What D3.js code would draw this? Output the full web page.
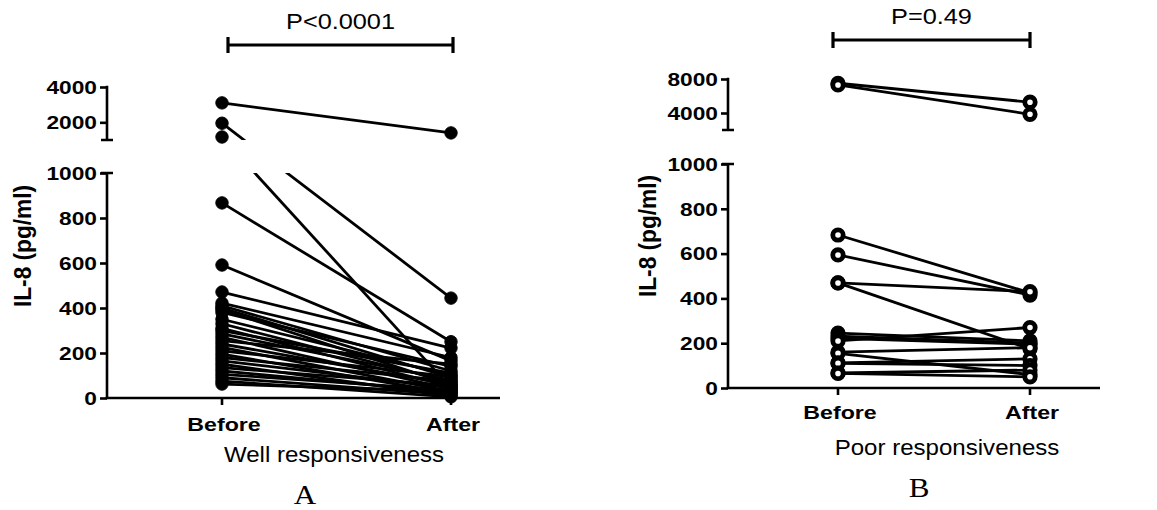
<!DOCTYPE html>
<html>
<head>
<meta charset="utf-8">
<script src="https://cdn.jsdelivr.net/npm/d3@7"></script>
<style>
  body { margin: 0; background: #fff; }
  text { font-family: "Liberation Sans", Arial, sans-serif; fill: #000; }
</style>
</head>
<body>
<svg id="chart" width="1157" height="510"></svg>
<script>
// ---- data ----
var groups = ["Before", "After"];

// A: well responsiveness, one entry per patient
var wellBefore = [3100, 1950, 1170, 867, 591, 471, 422, 410, 400, 392, 380, 350, 330, 310, 300, 285, 270, 255, 240, 225, 210, 195, 180, 165, 150, 135, 120, 105, 90, 75, 62];
var wellAfter  = [1400, 444, 45, 250, 165, 222, 180, 120, 90, 60, 140, 100, 70, 50, 110, 80, 40, 150, 60, 30, 95, 20, 75, 45, 10, 55, 25, 35, 15, 5, 30];

// B: poor responsiveness
var poorBefore = [7500, 7300, 683, 594, 469, 469, 245, 232, 222, 210, 160, 155, 112, 110, 67, 65];
var poorAfter  = [5270, 3850, 425, 415, 430, 175, 210, 200, 195, 270, 180, 60, 130, 100, 80, 50];

var wellTicksLow = [0, 200, 400, 600, 800, 1000], wellTicksHigh = [2000, 4000];
var poorTicksLow = [0, 200, 400, 600, 800, 1000], poorTicksHigh = [4000, 8000];

var svg = d3.select('#chart');

// small helper: horizontal text a bit stretched like the original figure
function label(g, txt, x, y, size, opts) {
    opts = opts || {};
    var sx = opts.sx || 1.2;
    return g.append('text')
        .attr('transform', 'translate(' + x + ',' + y + ') scale(' + sx + ',1)')
        .attr('text-anchor', opts.anchor || 'middle')
        .style('font-size', size + 'px')
        .style('font-weight', opts.bold ? 'bold' : 'normal')
        .style('font-family', opts.serif ? '"Liberation Serif", "Times New Roman", serif' : null)
        .text(txt);
}

function drawPanel(p) {
    var g = svg.append('g');

    var x = d3.scalePoint().domain(groups).range([p.x0, p.x1]);
    var yLow = d3.scaleLinear().domain(p.lowDomain).range([p.yBottom, p.yBreakLow]);
    var yHigh = d3.scaleLinear().domain(p.highDomain).range([p.yBreakHigh, p.yTop]);
    var y = function(v) { return v > p.lowDomain[1] ? yHigh(v) : yLow(v); };

    // lines are hidden inside the axis break
    var clipId = 'clip-' + p.id;
    var clip = svg.append('clipPath').attr('id', clipId);
    clip.append('rect').attr('x', 0).attr('y', 0).attr('width', 1157).attr('height', p.yBreakHigh);
    clip.append('rect').attr('x', 0).attr('y', p.yBreakLow).attr('width', 1157).attr('height', 510);

    var pairs = p.before.map(function(b, i) { return { b: b, a: p.after[i] }; });

    g.append('g').attr('clip-path', 'url(#' + clipId + ')')
        .selectAll('line').data(pairs).enter().append('line')
        .attr('x1', x('Before')).attr('y1', function(d) { return y(d.b); })
        .attr('x2', x('After')).attr('y2', function(d) { return y(d.a); })
        .attr('stroke', '#000').attr('stroke-width', 2.8);

    var pts = [];
    pairs.forEach(function(d) { pts.push({ g: 'Before', v: d.b }); pts.push({ g: 'After', v: d.a }); });

    g.append('g').selectAll('circle').data(pts).enter().append('circle')
        .attr('cx', function(d) { return x(d.g); })
        .attr('cy', function(d) { return y(d.v); })
        .attr('r', p.open ? 5.2 : 6.2)
        .attr('fill', p.open ? '#fff' : '#000')
        .attr('stroke', '#000')
        .attr('stroke-width', p.open ? 4.8 : 1);

    // y axes (two segments)
    [[yLow, p.ticksLow], [yHigh, p.ticksHigh]].forEach(function(s) {
        var ax = g.append('g').attr('transform', 'translate(' + p.axisX + ',0)')
            .call(d3.axisLeft(s[0]).tickValues(s[1]).tickSize(7).tickFormat(d3.format('d')));
        ax.select('.domain').remove();
        ax.selectAll('line').attr('stroke', '#000').attr('stroke-width', 2.6);
        ax.selectAll('text')
            .attr('x', -10 / 1.3).attr('dy', '0.36em')
            .attr('transform', 'scale(1.3,1)')
            .style('font-size', '17.5px').style('font-weight', 'bold')
            .style('font-family', '"Liberation Sans", Arial, sans-serif');
    });

    var axisStroke = function(sel) { return sel.attr('stroke', '#000').attr('stroke-width', 2.6).attr('fill', 'none'); };
    // segment spines with caps at the break
    axisStroke(g.append('path')
        .attr('d', 'M' + p.axisX + ',' + (yHigh.range()[1] - 1.3) + 'V' + p.yBreakHigh +
                   'M' + (p.axisX - 6) + ',' + p.yBreakHigh + 'H' + (p.axisX + 6)));
    axisStroke(g.append('path')
        .attr('d', 'M' + (p.axisX - 6) + ',' + p.yBreakLow + 'H' + (p.axisX + 6) +
                   'M' + p.axisX + ',' + p.yBreakLow + 'V' + p.yBottom));

    // x axis
    axisStroke(g.append('path')
        .attr('d', 'M' + (p.axisX - 1.3) + ',' + p.yBottom + 'H' + p.xEnd));
    groups.forEach(function(k) {
        axisStroke(g.append('path').attr('d', 'M' + x(k) + ',' + p.yBottom + 'v7'));
        label(g, k, x(k) + 2, p.groupY, 19, { bold: true, sx: 1.22 });
    });

    // y label
    g.append('text')
        .attr('transform', 'translate(' + p.ylabX + ',' + p.ylabY + ') rotate(-90) scale(1.03,1.12)')
        .attr('text-anchor', 'middle')
        .style('font-size', '22px').style('font-weight', 'bold')
        .text('IL-8 (pg/ml)');

    // significance bracket
    axisStroke(g.append('path')
        .attr('d', 'M' + p.bx0 + ',' + p.by + 'H' + p.bx1 +
                   'M' + p.bx0 + ',' + (p.by - 8) + 'v16' +
                   'M' + p.bx1 + ',' + (p.by - 8) + 'v16'))
        .attr('stroke-width', 3.2);
    label(g, p.pval, (p.bx0 + p.bx1) / 2, p.by - 16, 22, { sx: 1.15 });

    label(g, p.title, p.titleX, p.titleY, 21.5, { sx: 1.12 });
    label(g, p.letter, p.letterX, p.letterY, 27, { serif: true, sx: 1.15 });
}

drawPanel({
    id: 'a', before: wellBefore, after: wellAfter, open: false,
    x0: 222, x1: 451, axisX: 107, xEnd: 500,
    lowDomain: [0, 1000], highDomain: [1000, 4000],
    yBottom: 398, yBreakLow: 173, yBreakHigh: 140, yTop: 87,
    ticksLow: wellTicksLow, ticksHigh: wellTicksHigh,
    groupY: 431, ylabX: 31, ylabY: 246,
    bx0: 228, bx1: 453, by: 45, pval: 'P<0.0001',
    title: 'Well responsiveness', titleX: 334, titleY: 462,
    letter: 'A', letterX: 305, letterY: 504
});

drawPanel({
    id: 'b', before: poorBefore, after: poorAfter, open: true,
    x0: 838, x1: 1030, axisX: 728, xEnd: 1100,
    lowDomain: [0, 1000], highDomain: [2000, 8000],
    yBottom: 388, yBreakLow: 164, yBreakHigh: 130, yTop: 79,
    ticksLow: poorTicksLow, ticksHigh: poorTicksHigh,
    groupY: 419, ylabX: 656, ylabY: 236,
    bx0: 833, bx1: 1030, by: 40, pval: 'P=0.49',
    title: 'Poor responsiveness', titleX: 947, titleY: 455,
    letter: 'B', letterX: 919, letterY: 497
});
</script>
</body>
</html>
